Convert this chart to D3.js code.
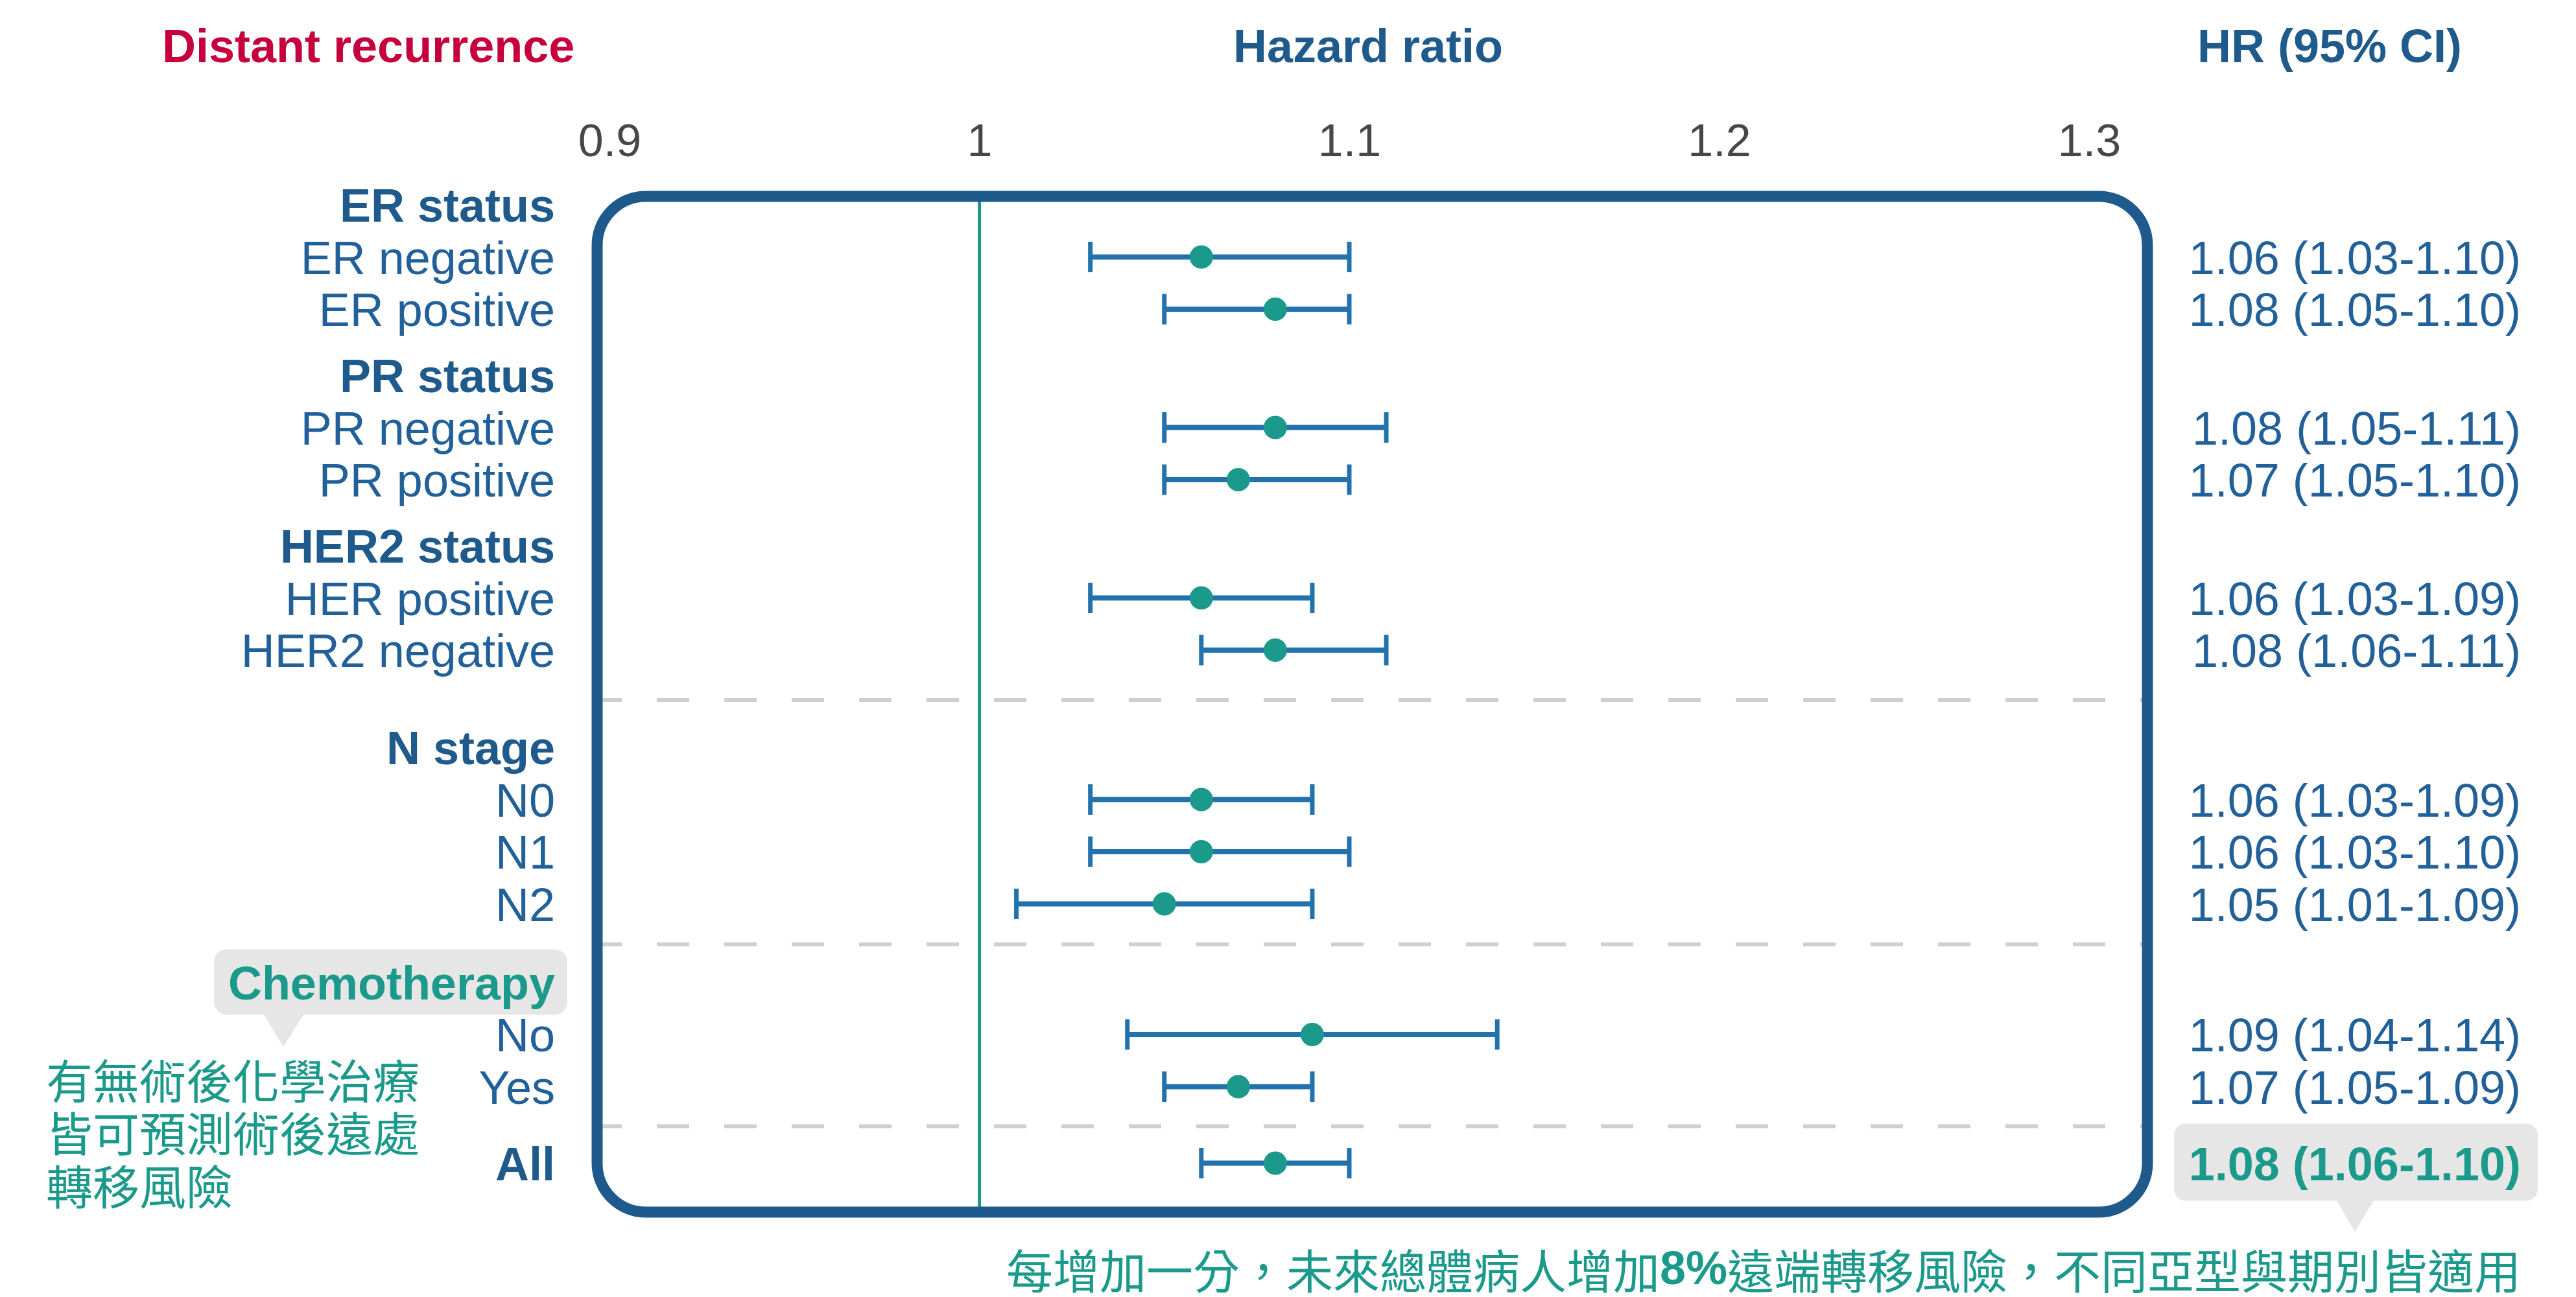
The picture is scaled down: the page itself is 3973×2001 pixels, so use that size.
<!DOCTYPE html>
<html>
<head>
<meta charset="utf-8">
<script src="https://cdn.jsdelivr.net/npm/d3@7"></script>
<style>
  html, body { margin: 0; padding: 0; background: #ffffff; }
  svg { display: block; }
  text { font-family: "Liberation Sans", Arial, "Helvetica Neue", sans-serif; }
  .cjk { font-family: "Noto Sans CJK TC", "Noto Sans CJK SC", sans-serif; }
</style>
</head>
<body>
<svg id="chart" width="3973" height="2001"></svg>
<script>
// Forest plot: hazard ratio of distant recurrence by subgroup
const rowLabels = [
  "ER status", "ER negative", "ER positive",
  "PR status", "PR negative", "PR positive",
  "HER2 status", "HER positive", "HER2 negative",
  "N stage", "N0", "N1", "N2",
  "Chemotherapy", "No", "Yes",
  "All"
];
// section each row belongs to (sections are separated by dashed rules)
const rowSection = [0,0,0, 0,0,0, 0,0,0, 1,1,1,1, 2,2,2, 3];
const hrValues = [null,1.06,1.08, null,1.08,1.07, null,1.06,1.08, null,1.06,1.06,1.05, null,1.09,1.07, 1.08];
const ciLower  = [null,1.03,1.05, null,1.05,1.05, null,1.03,1.06, null,1.03,1.03,1.01, null,1.04,1.05, 1.06];
const ciUpper  = [null,1.10,1.10, null,1.11,1.10, null,1.09,1.11, null,1.09,1.10,1.09, null,1.14,1.09, 1.10];
const tickValues = [0.9, 1, 1.1, 1.2, 1.3];

const titleLeft = "Distant recurrence";
const titleMid = "Hazard ratio";
const titleRight = "HR (95% CI)";
const noteLines = ["有無術後化學治療", "皆可預測術後遠處", "轉移風險"];
const footParts = [
  { t: "每增加一分，未來總體病人增加", bold: false },
  { t: "8%", bold: true },
  { t: "遠端轉移風險，不同亞型與期別皆適用", bold: false }
];

// colours
const navy = "#1f5a8c";
const blue = "#22609a";
const barBlue = "#2272ad";
const teal = "#1b9a8b";
const crimson = "#c6003d";
const bubbleGrey = "#e6e6e6";

const svg = d3.select("#chart");

// horizontal scale for hazard ratio
const x = d3.scaleLinear().domain([0.9, 1.3]).range([940, 3222]);

// vertical layout of rows
const step = 80.5, headerGap = 21.5;
const sectionGap = [0, 48, 19, 37.5];
const rowY = [];
let yCur = 316;
rowLabels.forEach((lab, i) => {
  if (i > 0) {
    yCur += step;
    const isHeader = hrValues[i] === null;
    if (isHeader) yCur += headerGap;
    if (rowSection[i] !== rowSection[i - 1]) yCur += sectionGap[rowSection[i]];
  }
  rowY.push(yCur);
});
const capHalf = 26; // half cap-height of 72px text, to centre labels on rows

// frame geometry
const frame = { x0: 921, y0: 303, x1: 3312, y1: 1870, r: 75 };

// titles
svg.append("text").attr("x", 250).attr("y", 96)
  .attr("font-size", 72).attr("font-weight", "bold").attr("fill", crimson)
  .text(titleLeft);
svg.append("text").attr("x", 2110).attr("y", 96).attr("text-anchor", "middle")
  .attr("font-size", 72).attr("font-weight", "bold").attr("fill", navy)
  .text(titleMid);
svg.append("text").attr("x", 3593).attr("y", 96).attr("text-anchor", "middle")
  .attr("font-size", 72).attr("font-weight", "bold").attr("fill", navy)
  .text(titleRight);

// axis tick labels
const axis = d3.axisTop(x).tickValues(tickValues).tickSize(0).tickPadding(0)
  .tickFormat(d3.format("~g"));
const gAxis = svg.append("g").attr("transform", "translate(0,241)").call(axis);
gAxis.select(".domain").remove();
gAxis.selectAll("text")
  .attr("font-size", 70).attr("fill", "#474747")
  .attr("font-family", "'Liberation Sans', Arial, sans-serif");

// dashed section rules
const ruleYs = [];
for (let i = 1; i < rowLabels.length; i++) {
  if (rowSection[i] !== rowSection[i - 1]) ruleYs.push((rowY[i] + rowY[i - 1]) / 2 + 2);
}
svg.append("g").selectAll("line").data(ruleYs).join("line")
  .attr("x1", frame.x0 + 8).attr("x2", frame.x1 - 8)
  .attr("y1", d => d).attr("y2", d => d)
  .attr("stroke", "#cfcfcf").attr("stroke-width", 6)
  .attr("stroke-dasharray", "50 54").attr("stroke-dashoffset", 20);

// reference line at HR = 1
svg.append("line")
  .attr("x1", x(1)).attr("x2", x(1))
  .attr("y1", frame.y0).attr("y2", frame.y1)
  .attr("stroke", teal).attr("stroke-width", 5);

// rounded frame around the plot area
svg.append("rect")
  .attr("x", frame.x0).attr("y", frame.y0)
  .attr("width", frame.x1 - frame.x0).attr("height", frame.y1 - frame.y0)
  .attr("rx", frame.r).attr("ry", frame.r)
  .attr("fill", "none").attr("stroke", navy).attr("stroke-width", 17);

// estimate rows
const est = rowLabels.map((lab, i) => ({
  label: lab, y: rowY[i], hr: hrValues[i], lo: ciLower[i], hi: ciUpper[i], last: i === rowLabels.length - 1
})).filter(d => d.hr !== null);

const gEst = svg.append("g");
const capH = 47;
gEst.selectAll("line.ci").data(est).join("line").attr("class", "ci")
  .attr("x1", d => x(d.lo)).attr("x2", d => x(d.hi))
  .attr("y1", d => d.y).attr("y2", d => d.y)
  .attr("stroke", barBlue).attr("stroke-width", 8);
gEst.selectAll("line.capL").data(est).join("line").attr("class", "capL")
  .attr("x1", d => x(d.lo)).attr("x2", d => x(d.lo))
  .attr("y1", d => d.y - capH / 2).attr("y2", d => d.y + capH / 2)
  .attr("stroke", barBlue).attr("stroke-width", 7);
gEst.selectAll("line.capR").data(est).join("line").attr("class", "capR")
  .attr("x1", d => x(d.hi)).attr("x2", d => x(d.hi))
  .attr("y1", d => d.y - capH / 2).attr("y2", d => d.y + capH / 2)
  .attr("stroke", barBlue).attr("stroke-width", 7);
gEst.selectAll("circle").data(est).join("circle")
  .attr("cx", d => x(d.hr)).attr("cy", d => d.y).attr("r", 18)
  .attr("fill", teal);

// callout bubble behind the Chemotherapy header
const chemoIdx = rowLabels.indexOf("Chemotherapy");
const chemoY = rowY[chemoIdx];
svg.append("rect").attr("x", 330).attr("y", chemoY - 51).attr("width", 545).attr("height", 101)
  .attr("rx", 20).attr("fill", bubbleGrey);
svg.append("path")
  .attr("d", `M406,${chemoY + 48}L469,${chemoY + 48}L437,${chemoY + 100}Z`)
  .attr("fill", bubbleGrey);

// callout bubble behind the overall estimate
const allY = rowY[rowLabels.length - 1];
svg.append("rect").attr("x", 3353).attr("y", allY - 61).attr("width", 561).attr("height", 119)
  .attr("rx", 18).attr("fill", bubbleGrey);
svg.append("path")
  .attr("d", `M3603,${allY + 56}L3662,${allY + 56}L3632,${allY + 106}Z`)
  .attr("fill", bubbleGrey);

// row labels
const fmt = d3.format(".2f");
svg.append("g").selectAll("text").data(rowLabels.map((lab, i) => ({ lab, i })))
  .join("text")
  .attr("x", 856).attr("y", d => rowY[d.i] + capHalf)
  .attr("text-anchor", "end").attr("font-size", 72)
  .attr("font-weight", d => (hrValues[d.i] === null || d.i === rowLabels.length - 1) ? "bold" : "normal")
  .attr("fill", d => d.lab === "Chemotherapy" ? teal : (hrValues[d.i] === null || d.i === rowLabels.length - 1) ? navy : blue)
  .text(d => d.lab);

// HR (95% CI) column
svg.append("g").selectAll("text").data(est).join("text")
  .attr("x", 3888).attr("y", d => d.y + capHalf)
  .attr("text-anchor", "end").attr("font-size", 72)
  .attr("font-weight", d => d.last ? "bold" : "normal")
  .attr("fill", d => d.last ? teal : blue)
  .text(d => `${fmt(d.hr)} (${fmt(d.lo)}-${fmt(d.hi)})`);

// side note
svg.append("g").selectAll("text").data(noteLines).join("text")
  .attr("class", "cjk")
  .attr("x", 71).attr("y", (d, i) => 1663 + i * 81.5)
  .attr("dominant-baseline", "central")
  .attr("font-size", 72).attr("fill", teal)
  .text(d => d);

// footnote
const foot = svg.append("text").attr("class", "cjk")
  .attr("x", 3888).attr("y", 1956).attr("text-anchor", "end")
  .attr("dominant-baseline", "central")
  .attr("font-size", 72).attr("fill", teal);
foot.selectAll("tspan").data(footParts).join("tspan")
  .attr("font-weight", d => d.bold ? "bold" : "normal")
  .attr("font-family", d => d.bold ? "'Liberation Sans', Arial, sans-serif" : null)
  .text(d => d.t);
</script>
</body>
</html>
